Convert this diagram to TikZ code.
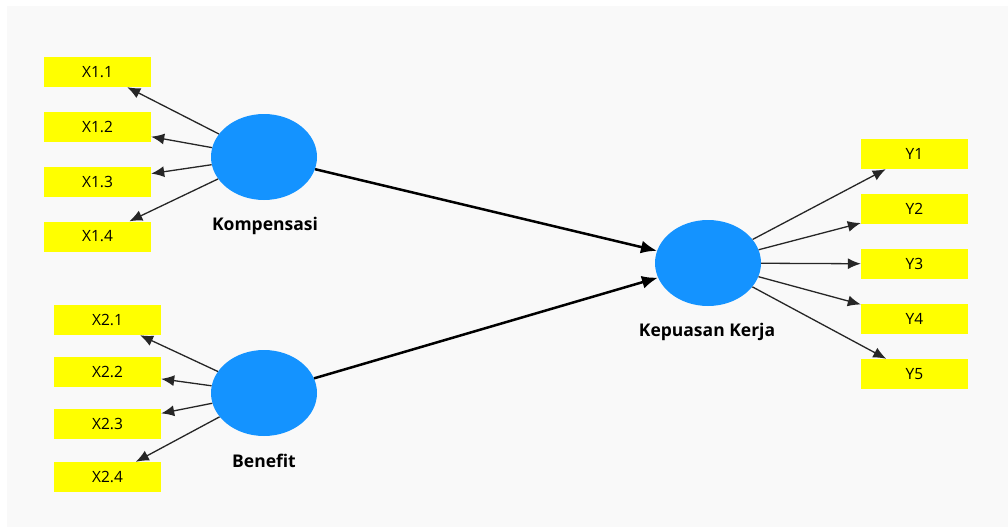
\documentclass[tikz,border=0pt]{standalone}
\usepackage{fontspec}
\setmainfont{Open Sans}
\usetikzlibrary{shapes.geometric,arrows.meta}
\definecolor{bgc}{HTML}{F9F9F9}
\definecolor{latc}{HTML}{1493FF}
\definecolor{indc}{HTML}{FFFF00}
\begin{document}
\begin{tikzpicture}[x=1pt,y=-1pt,
  ind/.style={rectangle,fill=indc,minimum width=107pt,minimum height=30pt,inner sep=0pt,font=\fontsize{15.5}{17}\selectfont},
  lat/.style={ellipse,fill=latc,minimum width=106pt,minimum height=86pt,inner sep=0pt},
  lab/.style={font=\fontsize{17.5}{19}\selectfont\bfseries},
  load/.style={draw=black!85,line width=1.3pt,-{Latex[length=13pt,width=11pt]}},
  path/.style={draw=black,line width=2.5pt,-{Latex[length=16pt,width=13pt]}}]
\useasboundingbox (0,0) rectangle (1008,527);
\fill[white] (0,0) rectangle (1008,527);
\fill[bgc] (7,6) rectangle (1008,527);
% latent variables
\node[lat] (K) at (264,157) {};
\node[lat] (B) at (264,393) {};
\node[lat] (KK) at (708,263) {};
\node[lab] (Kl) at (265,226) {Kompensasi};
\node[lab] (Bl) at (264,461) {Benefit};
\node[lab] (KKl) at (707,332) {Kepuasan Kerja};
% indicators
\node[ind] (X11) at (97.5,72) {X1.1};
\node[ind] (X12) at (97.5,127) {X1.2};
\node[ind] (X13) at (97.5,181.5) {X1.3};
\node[ind] (X14) at (97.5,236.5) {X1.4};
\node[ind] (X21) at (107.5,320) {X2.1};
\node[ind] (X22) at (107.5,371.5) {X2.2};
\node[ind] (X23) at (107.5,424) {X2.3};
\node[ind] (X24) at (107.5,477) {X2.4};
\node[ind] (Y1) at (914.5,154) {Y1};
\node[ind] (Y2) at (914.5,209) {Y2};
\node[ind] (Y3) at (914.5,264) {Y3};
\node[ind] (Y4) at (914.5,319) {Y4};
\node[ind] (Y5) at (914.5,374) {Y5};
% loadings
\foreach \t in {X11,X12,X13,X14} \draw[load] (K) -- (\t);
\foreach \t in {X21,X22,X23,X24} \draw[load] (B) -- (\t);
\foreach \t in {Y1,Y2,Y3,Y4,Y5} \draw[load] (KK) -- (\t);
% structural paths
\draw[path] (K) -- (KK);
\draw[path] (B) -- (KK);
\end{tikzpicture}
\end{document}
